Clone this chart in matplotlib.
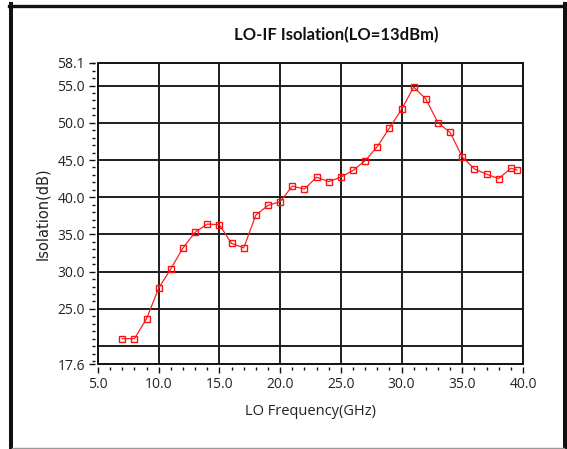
import matplotlib
matplotlib.use("Agg")
import matplotlib.pyplot as plt
from matplotlib.lines import Line2D
from matplotlib.patches import Rectangle
from matplotlib.ticker import FixedLocator, FixedFormatter

# LO-IF isolation measurement, LO drive 13 dBm
freq_ghz = [7, 8, 9, 10, 11, 12, 13, 14, 15, 16, 17, 18, 19, 20, 21, 22, 23,
            24, 25, 26, 27, 28, 29, 30, 31, 32, 33, 34, 35, 36, 37, 38, 39, 39.5]
isolation_db = [21.0, 21.0, 23.7, 27.8, 30.4, 33.2, 35.3, 36.4, 36.3, 33.8,
                33.2, 37.6, 38.9, 39.4, 41.5, 41.1, 42.7, 42.1, 42.7, 43.6,
                44.9, 46.8, 49.3, 51.8, 54.8, 53.2, 50.0, 48.7, 45.4, 43.8,
                43.1, 42.5, 43.9, 43.65]

x_ticks = [5.0, 10.0, 15.0, 20.0, 25.0, 30.0, 35.0, 40.0]
x_tick_labels = ["5.0", "10.0", "15.0", "20.0", "25.0", "30.0", "35.0", "40.0"]
y_ticks = [17.6, 25.0, 30.0, 35.0, 40.0, 45.0, 50.0, 55.0, 58.1]
y_tick_labels = ["17.6", "25.0", "30.0", "35.0", "40.0", "45.0", "50.0", "55.0", "58.1"]
x_grid = [10, 15, 20, 25, 30, 35]
y_grid = [20, 25, 30, 35, 40, 45, 50, 55]

W, H = 567, 449
fig = plt.figure(figsize=(W / 100, H / 100), dpi=100)
fig.patch.set_facecolor("white")

left, right, top, bottom = 98, 523, 62.5, 364
ax = fig.add_axes([left / W, 1 - bottom / H, (right - left) / W, (bottom - top) / H])
ax.set_xlim(5.0, 40.0)
ax.set_ylim(17.6, 58.1)

# grid
grid_kw = dict(color="#1e1e1e", lw=1.4, zorder=1)
ax.vlines(x_grid, 17.6, 58.1, **grid_kw)
ax.hlines(y_grid, 5.0, 40.0, **grid_kw)

# data
ax.plot(freq_ghz, isolation_db, color="#ff2020", lw=0.9, marker="s",
        markersize=4.6, markerfacecolor="none", markeredgecolor="#ff1010",
        markeredgewidth=1.0, zorder=3)

# frame with ticks set slightly away from it
for s in ("left", "bottom"):
    ax.spines[s].set_position(("outward", 2.3))
    ax.spines[s].set_color("none")
for s in ("top", "right"):
    ax.spines[s].set_visible(False)
ax.add_patch(Rectangle((0, 0), 1, 1, transform=ax.transAxes, fill=False,
                       edgecolor="#111111", lw=1.4, zorder=4, clip_on=False))

ax.xaxis.set_major_locator(FixedLocator(x_ticks))
ax.xaxis.set_major_formatter(FixedFormatter(x_tick_labels))
ax.xaxis.set_minor_locator(FixedLocator([v for v in range(6, 40) if v % 5]))
ax.yaxis.set_major_locator(FixedLocator(y_ticks))
ax.yaxis.set_major_formatter(FixedFormatter(y_tick_labels))
ax.yaxis.set_minor_locator(FixedLocator([v for v in range(18, 59) if v % 5]
                                        + [20]))

ax.tick_params(which="major", direction="out", length=4.5, width=1.0,
               color="#111111", labelcolor="#222222", pad=2.5)
ax.tick_params(which="minor", direction="out", length=2.4, width=1.0,
               color="#111111")
for lab in ax.get_xticklabels() + ax.get_yticklabels():
    lab.set_fontfamily("Open Sans")
    lab.set_fontsize(10)

ax.set_xlabel("LO Frequency(GHz)", fontfamily="Open Sans", fontsize=10.5,
              color="#222222", labelpad=9)
ax.set_ylabel("Isolation(dB)", fontfamily="DejaVu Sans", fontsize=10.5,
              color="#222222", labelpad=5)

fig.text(336 / W, 1 - 35 / H, "LO-IF Isolation(LO=13dBm)", fontfamily="Lato",
         fontweight="bold", fontsize=12, ha="center", va="center",
         color="#111111")

# outer panel border
fig.add_artist(Line2D([9 / W, 566 / W], [1 - 5.5 / H, 1 - 5.5 / H],
                      transform=fig.transFigure, color="#111111", lw=2.4))
fig.add_artist(Line2D([11 / W, 11 / W], [0, 1 - 4 / H],
                      transform=fig.transFigure, color="#111111", lw=2.9))
fig.add_artist(Line2D([565 / W, 565 / W], [0, 1 - 4 / H],
                      transform=fig.transFigure, color="#111111", lw=2.9))
fig.add_artist(Line2D([12 / W, 564 / W], [1 - 447.5 / H, 1 - 447.5 / H],
                      transform=fig.transFigure, color="#9a9a9a", lw=1.0))

fig.savefig("out.png", dpi=100)
